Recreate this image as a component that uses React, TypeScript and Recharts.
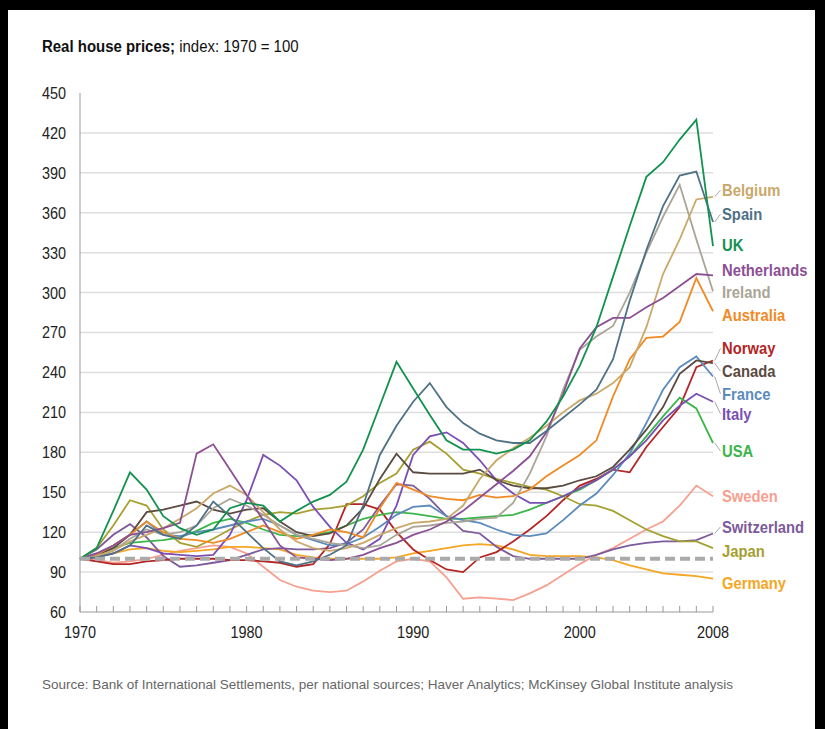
import { CartesianGrid, Line, LineChart, ReferenceDot, ReferenceLine, XAxis, YAxis } from 'recharts';

const FONT = '"Liberation Sans", Arial, sans-serif';

const YEARS = [
  1970, 1971, 1972, 1973, 1974, 1975, 1976, 1977, 1978, 1979,
  1980, 1981, 1982, 1983, 1984, 1985, 1986, 1987, 1988, 1989,
  1990, 1991, 1992, 1993, 1994, 1995, 1996, 1997, 1998, 1999,
  2000, 2001, 2002, 2003, 2004, 2005, 2006, 2007, 2008,
];
const X_LABELS = [1970, 1980, 1990, 2000, 2008];
const Y_TICKS = [60, 90, 120, 150, 180, 210, 240, 270, 300, 330, 360, 390, 420, 450];
const GRID_VALUES = [90, 120, 150, 180, 210, 240, 270, 300, 330, 360, 390, 420];

const BELGIUM = [100, 102, 106, 113, 118, 123, 130, 138, 149, 155, 148, 135, 122, 113, 108, 106, 108, 112, 118, 123, 127, 128, 130, 140, 160, 174, 183, 191, 200, 210, 219, 224, 232, 244, 274, 314, 340, 370, 372];
const SPAIN = [100, 101, 104, 110, 125, 118, 115, 125, 143, 132, 120, 108, 98, 95, 98, 103, 110, 140, 178, 200, 218, 232, 214, 202, 194, 189, 187, 187, 196, 206, 216, 227, 250, 294, 332, 365, 388, 391, 353];
const UK = [100, 108, 136, 165, 152, 132, 123, 118, 122, 138, 142, 140, 128, 136, 143, 148, 158, 182, 215, 248, 228, 208, 189, 182, 182, 179, 182, 189, 203, 222, 245, 274, 312, 350, 387, 398, 415, 430, 335];
const NETHERLANDS = [100, 104, 110, 118, 120, 123, 127, 179, 186, 167, 148, 129, 110, 101, 100, 99, 100, 103, 108, 112, 118, 122, 128, 136, 146, 156, 166, 177, 195, 224, 258, 274, 281, 281, 289, 296, 305, 314, 313];
const IRELAND = [100, 102, 106, 115, 122, 118, 120, 125, 138, 145, 140, 133, 125, 118, 115, 112, 110, 108, 110, 118, 124, 125, 127, 128, 130, 131, 142, 164, 192, 227, 257, 267, 275, 300, 330, 357, 381, 340, 301];
const AUSTRALIA = [100, 103, 110, 118, 128, 120, 115, 114, 112, 115, 120, 125, 120, 115, 118, 122, 120, 116, 138, 157, 152, 147, 145, 144, 148, 146, 147, 152, 162, 170, 178, 189, 222, 250, 266, 267, 278, 311, 286];
const NORWAY = [100, 98, 96, 96, 98, 99, 100, 100, 100, 99, 99, 98, 97, 94, 96, 111, 141, 141, 137, 120, 107, 99, 92, 90, 101, 105, 113, 122, 132, 144, 155, 160, 167, 165, 184, 199, 214, 244, 249];
const CANADA = [100, 103, 108, 118, 135, 137, 140, 143, 137, 134, 137, 138, 128, 120, 117, 119, 125, 138, 160, 179, 165, 164, 164, 164, 167, 159, 155, 153, 153, 155, 159, 162, 169, 182, 197, 214, 239, 249, 247];
const FRANCE = [100, 104, 110, 118, 128, 118, 117, 120, 122, 125, 128, 130, 125, 118, 114, 110, 111, 116, 124, 133, 139, 140, 132, 129, 127, 122, 118, 117, 119, 129, 140, 149, 163, 179, 202, 227, 244, 252, 237];
const ITALY = [100, 101, 104, 110, 108, 104, 103, 102, 103, 118, 144, 178, 170, 159, 139, 124, 112, 107, 115, 140, 178, 192, 195, 187, 174, 159, 149, 142, 142, 147, 153, 159, 167, 177, 189, 204, 215, 224, 218];
const USA = [100, 103, 108, 112, 113, 114, 116, 121, 127, 130, 127, 122, 118, 117, 118, 120, 125, 130, 133, 135, 134, 132, 130, 130, 131, 132, 133, 137, 142, 147, 152, 159, 167, 177, 192, 207, 221, 213, 187];
const SWEDEN = [100, 99, 97, 98, 100, 103, 106, 108, 110, 109, 104, 94, 84, 79, 76, 75, 76, 83, 91, 98, 100, 98, 86, 70, 71, 70, 69, 74, 80, 88, 96, 103, 108, 115, 122, 128, 140, 155, 147];
const SWITZERLAND = [100, 107, 118, 126, 116, 102, 94, 95, 97, 99, 103, 107, 108, 107, 107, 108, 112, 122, 140, 156, 155, 145, 132, 121, 119, 109, 102, 100, 100, 100, 100, 103, 107, 110, 112, 113, 113, 114, 119];
const JAPAN = [100, 108, 125, 144, 140, 122, 112, 109, 115, 122, 128, 133, 135, 134, 137, 138, 140, 147, 157, 164, 182, 188, 179, 167, 164, 160, 157, 154, 152, 147, 141, 140, 136, 129, 122, 117, 113, 113, 108];
const GERMANY = [100, 101, 104, 107, 108, 106, 105, 106, 107, 109, 109, 108, 107, 103, 101, 100, 100, 100, 100, 101, 104, 106, 108, 110, 111, 110, 107, 103, 102, 102, 102, 101, 99, 95, 92, 89, 88, 87, 85];

// where each end label sits, in index units
const LABEL_AT: Record<string, number> = {
  Belgium: 377, Spain: 359, UK: 336, Netherlands: 317, Ireland: 300, Australia: 283,
  Norway: 258, Canada: 241, France: 224, Italy: 209, USA: 181, Sweden: 147,
  Switzerland: 124, Japan: 106, Germany: 82,
};

const SERIES = [
  { name: 'Sweden', values: SWEDEN, color: '#f7a090' },
  { name: 'Germany', values: GERMANY, color: '#f5a623' },
  { name: 'Switzerland', values: SWITZERLAND, color: '#7d5a9c' },
  { name: 'Norway', values: NORWAY, color: '#b32626' },
  { name: 'Japan', values: JAPAN, color: '#a5a030' },
  { name: 'USA', values: USA, color: '#3cb54a' },
  { name: 'France', values: FRANCE, color: '#5b8bbd' },
  { name: 'Italy', values: ITALY, color: '#7a4fb5' },
  { name: 'Canada', values: CANADA, color: '#5b4a40' },
  { name: 'Australia', values: AUSTRALIA, color: '#f08a24' },
  { name: 'Ireland', values: IRELAND, color: '#aaa596' },
  { name: 'Belgium', values: BELGIUM, color: '#c9a86a' },
  { name: 'Netherlands', values: NETHERLANDS, color: '#8c4f94' },
  { name: 'Spain', values: SPAIN, color: '#4f7186' },
  { name: 'UK', values: UK, color: '#12924f' },
];

const rows = YEARS.map((year, i) => {
  const row: Record<string, number> = { year };
  SERIES.forEach((s) => {
    row[s.name] = s.values[i];
  });
  return row;
});

// the original uses a condensed face; squeeze Liberation Sans horizontally
function NarrowText({ x, y, anchor = 'start', size = 17, squeeze = 0.85, weight = 400, fill = '#222', children }: any) {
  return (
    <text
      transform={`translate(${x},${y}) scale(${squeeze},1)`}
      textAnchor={anchor}
      dominantBaseline="central"
      fontFamily={FONT}
      fontSize={size}
      fontWeight={weight}
      fill={fill}
    >
      {children}
    </text>
  );
}

function YTick(props: any) {
  return (
    <NarrowText x={props.x} y={props.y} anchor="end">
      {props.payload.value}
    </NarrowText>
  );
}

function XTick(props: any) {
  const v = props.payload.value;
  if (!X_LABELS.includes(v)) return null;
  return (
    <NarrowText x={props.x} y={props.y} anchor="middle">
      {v}
    </NarrowText>
  );
}

function endLabel(name: string, color: string) {
  return (p: any) => {
    const vb = p.viewBox || p;
    return (
      <NarrowText x={vb.x + (vb.width || 0) + 9} y={vb.y + (vb.height || 0) / 2} size={17} squeeze={0.87} weight={700} fill={color}>
        {name}
      </NarrowText>
    );
  };
}

export default function App() {
  const last = YEARS.length - 1;
  return (
    <div style={{ position: 'relative', width: 825, height: 729, background: '#000', overflow: 'hidden' }}>
      <style>{'body{margin:0}'}</style>
      <div style={{ position: 'absolute', left: 8, top: 10, width: 807, height: 719, background: '#fff' }} />
      <div
        style={{
          position: 'absolute', left: 42, top: 38, fontFamily: FONT, fontSize: 16, color: '#111',
          whiteSpace: 'nowrap', transform: 'scaleX(0.935)', transformOrigin: 'left',
        }}
      >
        <b>Real house prices;</b> index: 1970 = 100
      </div>
      <div
        style={{
          position: 'absolute', left: 42, top: 677, fontFamily: FONT, fontSize: 13.5, color: '#666',
          whiteSpace: 'nowrap',
        }}
      >
        Source: Bank of International Settlements, per national sources; Haver Analytics; McKinsey Global Institute analysis
      </div>
      <div style={{ position: 'absolute', left: 0, top: 0 }}>
        <LineChart width={825} height={729} data={rows} margin={{ top: 93, right: 112, bottom: 87, left: 30 }}>
          <CartesianGrid vertical={false} stroke="#dedede" strokeWidth={1.5} horizontalValues={GRID_VALUES} />
          <XAxis
            dataKey="year"
            type="number"
            domain={[1970, 2008]}
            ticks={YEARS}
            interval={0}
            tickSize={-6}
            tickMargin={26}
            height={30}
            stroke="#999"
            tick={<XTick />}
          />
          <YAxis
            domain={[60, 450]}
            ticks={Y_TICKS}
            interval={0}
            width={50}
            tickLine={false}
            tickMargin={8}
            stroke="#999"
            tick={<YTick />}
          />
          {SERIES.map((s) => (
            <Line
              key={s.name}
              type="linear"
              dataKey={s.name}
              stroke={s.color}
              strokeWidth={1.8}
              dot={false}
              isAnimationActive={false}
            />
          ))}
          <ReferenceLine y={100} stroke="#aaa" strokeWidth={4} strokeDasharray="10 5" />
          {SERIES.filter((s) => Math.abs(LABEL_AT[s.name] - s.values[last]) > 4).map((s) => (
            <ReferenceLine
              key={'c-' + s.name}
              segment={[
                { x: 2008.1, y: s.values[last] },
                { x: 2008.45, y: LABEL_AT[s.name] },
              ]}
              stroke="#aaa"
              ifOverflow="visible"
            />
          ))}
          {SERIES.map((s) => (
            <ReferenceDot
              key={'l-' + s.name}
              x={2008}
              y={LABEL_AT[s.name]}
              r={0}
              fill="none"
              stroke="none"
              ifOverflow="visible"
              label={endLabel(s.name, s.color)}
            />
          ))}
        </LineChart>
      </div>
    </div>
  );
}
